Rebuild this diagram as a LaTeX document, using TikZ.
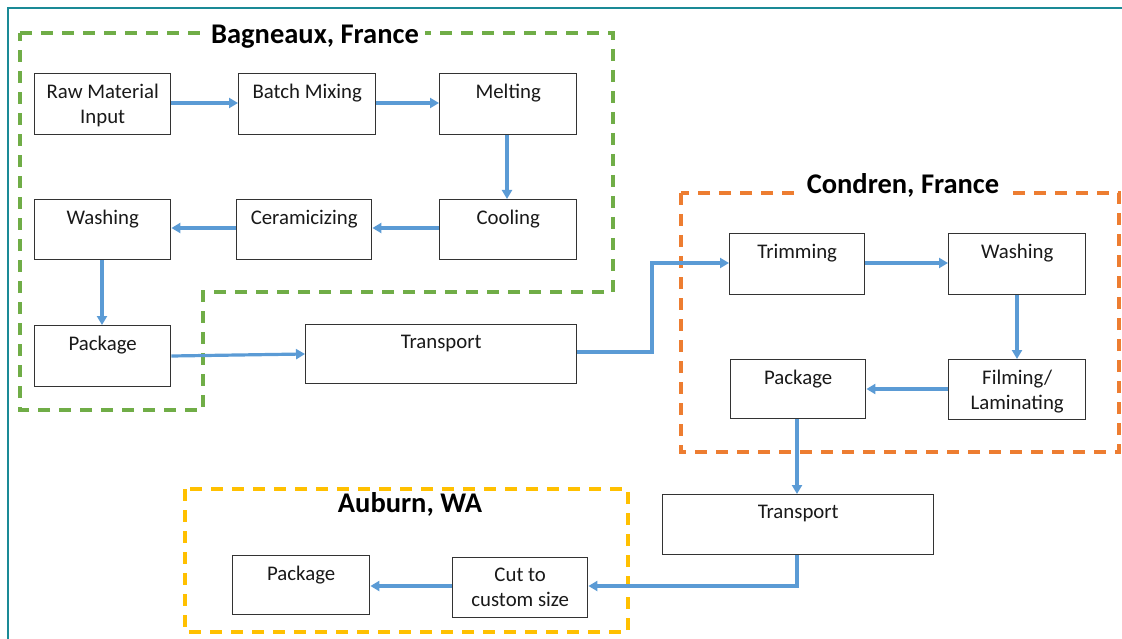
\documentclass[tikz,border=0pt]{standalone}
\usepackage{fontspec}
\setmainfont{Carlito}
\usetikzlibrary{arrows.meta,calc}
\definecolor{teal1}{HTML}{1A8A96}
\definecolor{arrowblue}{HTML}{5B9BD5}
\definecolor{grn}{HTML}{70AD47}
\definecolor{org}{HTML}{ED7D31}
\definecolor{yel}{HTML}{FFC000}
\definecolor{boxline}{HTML}{333333}
\tikzset{
  procbox/.style={draw=boxline, line width=1.4pt, fill=white, inner sep=0pt},
  boxtext/.style={font=\fontsize{20.8}{25}\selectfont, align=center, anchor=north, inner sep=0pt, text=black!90},
  flow/.style={draw=arrowblue, line width=3.2pt, -{Triangle[length=9pt,width=10pt]}},
  region/.style={line width=3.5pt, dash pattern=on 12pt off 9pt},
  title/.style={font=\bfseries\fontsize{28.5}{33}\selectfont, fill=white, inner xsep=6pt, inner ysep=1pt}
}
\newcommand{\pbox}[6]{% name, x1, y1, x2, y2, text
  \node[procbox, minimum width=#4pt-#2pt, minimum height=#5pt-#3pt, anchor=north west] (#1) at (#2,#3) {};
  \node[boxtext] (#1t) at ($(#1.north)+(0,10.5)$) {#6};
}
\begin{document}
\begin{tikzpicture}[x=1pt,y=-1pt]
\useasboundingbox (0,0) rectangle (1122,639);
% outer teal frame
\draw[teal1, line width=2.2pt] (8,650) -- (8,8) -- (1130,8);

% regions
\draw[grn, region] (20,33) -- (613,33) -- (613,292) -- (203,292) -- (203,410) -- (20,410) -- cycle;
\draw[org, region] (681,193) rectangle (1119,452);
\draw[yel, region] (185,489) rectangle (628,632);

\node[title] (tb) at (315,37) {Bagneaux, France};
\node[title] (tc) at (903,185.5) {Condren, France};
\node[title] (ta) at (410,504.5) {Auburn, WA};

% boxes
\pbox{raw}{34}{73}{170}{134}{Raw Material\\Input}
\pbox{batch}{238}{73}{375}{134}{Batch Mixing}
\pbox{melt}{439}{73}{576}{134}{Melting}
\pbox{cool}{439}{199}{576}{259}{Cooling}
\pbox{cer}{236}{199}{371}{259}{Ceramicizing}
\pbox{wash}{34}{199}{170}{259}{Washing}
\pbox{pack}{34}{325}{170}{386}{Package}
\pbox{trans}{305}{324}{576}{383}{Transport}
\pbox{trim}{729}{233}{864}{294}{Trimming}
\pbox{washb}{948}{233}{1085}{294}{Washing}
\pbox{film}{948}{359}{1085}{419}{Filming/\\Laminating}
\pbox{packb}{730}{359}{865}{418}{Package}
\pbox{transb}{662}{494}{933}{554}{Transport}
\pbox{packc}{232}{555}{369}{614}{Package}
\pbox{cut}{452}{557}{587}{617}{Cut to\\custom size}

% connectors
\draw[flow] (raw.east |- 0,103) -- (batch.west |- 0,103);
\draw[flow] (batch.east |- 0,103) -- (melt.west |- 0,103);
\draw[flow] (melt.south -| 507,0) -- (cool.north -| 507,0);
\draw[flow] (cool.west |- 0,228) -- (cer.east |- 0,228);
\draw[flow] (cer.west |- 0,228) -- (wash.east |- 0,228);
\draw[flow] (wash.south -| 102,0) -- (pack.north -| 102,0);
\draw[flow] (pack.east |- 0,356) -- (trans.west |- 0,354);
\draw[flow] (trans.east |- 0,352) -- (652,352) -- (652,263) -- (trim.west |- 0,263);
\draw[flow] (trim.east |- 0,263) -- (washb.west |- 0,263);
\draw[flow] (washb.south -| 1017,0) -- (film.north -| 1017,0);
\draw[flow] (film.west |- 0,389) -- (packb.east |- 0,389);
\draw[flow] (packb.south -| 797,0) -- (transb.north -| 797,0);
\draw[flow] (transb.south -| 797,0) -- (797,586) -- (cut.east |- 0,586);
\draw[flow] (cut.west |- 0,586) -- (packc.east |- 0,586);
\end{tikzpicture}
\end{document}
